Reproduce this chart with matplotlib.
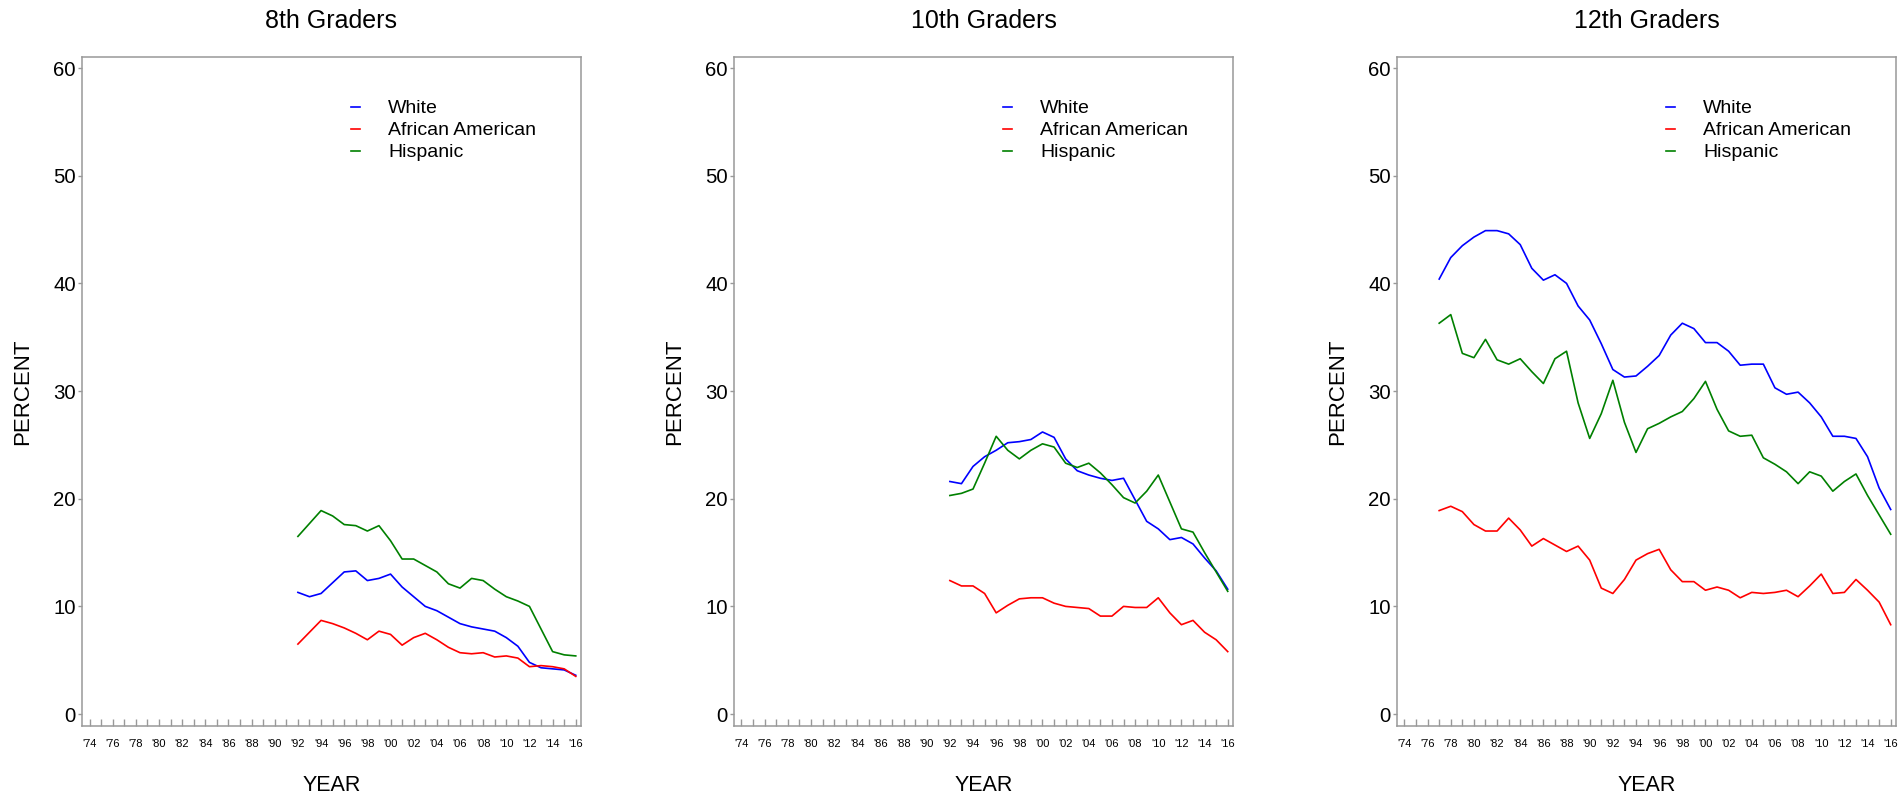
import matplotlib
matplotlib.use("Agg")
import matplotlib.pyplot as plt

plt.rcParams['font.family'] = ['Liberation Sans', 'DejaVu Sans']

# años
years_8 = list(range(1992, 2017))
years_10 = list(range(1992, 2017))
years_12 = list(range(1977, 2017))

white_8 = [11.3, 10.9, 11.2, 12.2, 13.2, 13.3, 12.4, 12.6, 13.0, 11.8, 10.9, 10.0, 9.6,
           9.0, 8.4, 8.1, 7.9, 7.7, 7.1, 6.3, 4.8, 4.3, 4.2, 4.1, 3.6]
black_8 = [6.5, 7.6, 8.7, 8.4, 8.0, 7.5, 6.9, 7.7, 7.4, 6.4, 7.1, 7.5, 6.9,
           6.2, 5.7, 5.6, 5.7, 5.3, 5.4, 5.2, 4.4, 4.5, 4.4, 4.2, 3.5]
hisp_8 = [16.5, 17.7, 18.9, 18.4, 17.6, 17.5, 17.0, 17.5, 16.1, 14.4, 14.4, 13.8, 13.2,
          12.1, 11.7, 12.6, 12.4, 11.6, 10.9, 10.5, 10.0, 7.9, 5.8, 5.5, 5.4]

white_10 = [21.6, 21.4, 23.0, 23.9, 24.5, 25.2, 25.3, 25.5, 26.2, 25.7, 23.7, 22.6, 22.2,
            21.9, 21.7, 21.9, 19.9, 17.9, 17.2, 16.2, 16.4, 15.8, 14.5, 13.3, 11.6]
black_10 = [12.4, 11.9, 11.9, 11.2, 9.4, 10.1, 10.7, 10.8, 10.8, 10.3, 10.0, 9.9, 9.8,
            9.1, 9.1, 10.0, 9.9, 9.9, 10.8, 9.4, 8.3, 8.7, 7.6, 6.9, 5.8]
hisp_10 = [20.3, 20.5, 20.9, 23.3, 25.8, 24.5, 23.7, 24.5, 25.1, 24.8, 23.3, 22.9, 23.3,
           22.4, 21.3, 20.1, 19.6, 20.7, 22.2, 19.7, 17.2, 16.9, 15.0, 13.2, 11.4]

white_12 = [40.4, 42.4, 43.5, 44.3, 44.9, 44.9, 44.6, 43.6, 41.4, 40.3, 40.8, 40.0, 37.9,
            36.6, 34.4, 32.0, 31.3, 31.4, 32.3, 33.3, 35.2, 36.3, 35.8, 34.5, 34.5, 33.7,
            32.4, 32.5, 32.5, 30.3, 29.7, 29.9, 28.9, 27.6, 25.8, 25.8, 25.6, 23.9, 21.0, 19.0]
black_12 = [18.9, 19.3, 18.8, 17.6, 17.0, 17.0, 18.2, 17.1, 15.6, 16.3, 15.7, 15.1, 15.6,
            14.3, 11.7, 11.2, 12.5, 14.3, 14.9, 15.3, 13.4, 12.3, 12.3, 11.5, 11.8, 11.5,
            10.8, 11.3, 11.2, 11.3, 11.5, 10.9, 11.9, 13.0, 11.2, 11.3, 12.5, 11.5, 10.4, 8.3]
hisp_12 = [36.3, 37.1, 33.5, 33.1, 34.8, 32.9, 32.5, 33.0, 31.8, 30.7, 33.0, 33.7, 28.9,
           25.6, 27.9, 31.0, 27.1, 24.3, 26.5, 27.0, 27.6, 28.1, 29.3, 30.9, 28.3, 26.3,
           25.8, 25.9, 23.8, 23.2, 22.5, 21.4, 22.5, 22.1, 20.7, 21.6, 22.3, 20.3, 18.5, 16.7]

titles = ['8th Graders', '10th Graders', '12th Graders']
labels = ['White', 'African American', 'Hispanic']
colors = ['#0000ff', '#ff0000', '#008000']

tick_years = list(range(1974, 2017))
tick_labels = ["'%02d" % (y % 100) if y % 2 == 0 else '' for y in tick_years]

paneles = [
    (years_8, [white_8, black_8, hisp_8]),
    (years_10, [white_10, black_10, hisp_10]),
    (years_12, [white_12, black_12, hisp_12]),
]

fig = plt.figure(figsize=(18.98, 7.98), dpi=100)
lefts = [0.0432, 0.3867, 0.7360]
gray = '#999999'

for i, (yrs, series) in enumerate(paneles):
    ax = fig.add_axes([lefts[i], 0.0902, 0.2629, 0.8383])
    for vals, lab, c in zip(series, labels, colors):
        ax.plot(yrs, vals, color=c, lw=1.2, label=lab)

    ax.set_xlim(1973.35, 2016.45)
    ax.set_ylim(-1.11, 61.02)
    ax.set_yticks([0, 10, 20, 30, 40, 50, 60])
    ax.set_xticks(tick_years)
    ax.set_xticklabels(tick_labels, fontsize=8)
    ax.tick_params(axis='x', direction='in', length=5, width=1, color=gray, pad=9)
    ax.tick_params(axis='y', direction='out', length=3, width=1, color=gray,
                   pad=1.5, labelsize=14.7)
    for s in ax.spines.values():
        s.set_color(gray)
        s.set_linewidth(1.1)

    ax.set_title(titles[i], fontsize=18, pad=21)
    ax.set_ylabel('PERCENT', fontsize=16)
    ax.yaxis.set_label_coords(-0.097, 0.5)
    ax.set_xlabel('YEAR', fontsize=15.5)
    ax.xaxis.set_label_coords(0.5, -0.073)

    ax.legend(loc='upper left', bbox_to_anchor=(0.539, 0.936), frameon=False,
              fontsize=14, handlelength=0.47, handletextpad=1.44,
              labelspacing=0.226, borderpad=0, borderaxespad=0)

fig.savefig('out.png', dpi=100)
